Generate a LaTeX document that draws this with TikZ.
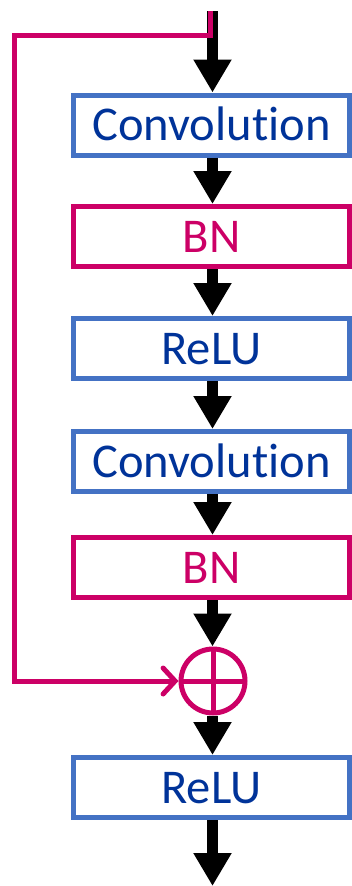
\documentclass[tikz,border=0pt]{standalone}
\usepackage{fontspec}
\setmainfont{Carlito}[RawFeature={-liga;-clig;-dlig}]
\usetikzlibrary{arrows.meta}
\definecolor{boxblue}{HTML}{4472C4}
\definecolor{textblue}{HTML}{003399}
\definecolor{bnpink}{HTML}{CC0066}
\tikzset{
  layer/.style={draw=boxblue, line width=5pt, fill=white, rectangle,
    minimum width=276pt, minimum height=60pt, inner sep=0pt,
    text=textblue, font=\fontsize{48.5}{50}\selectfont, text height=31pt, text depth=0pt},
  bnlayer/.style={layer, draw=bnpink, text=bnpink},
  flow/.style={line width=11pt, -{Triangle[width=36pt,length=33pt]}},
  skip/.style={draw=bnpink, line width=5pt},
}
\begin{document}
\begin{tikzpicture}[x=1pt,y=-1pt]
\useasboundingbox (0,0) rectangle (352,886);
\coordinate (top) at (212.5,11);
\node[layer]   (c1) at (211.5,125)   {Convolution};
\node[bnlayer] (b1) at (211.5,236.5) {BN};
\node[layer]   (r1) at (211.5,348.5) {ReLU};
\node[layer]   (c2) at (211.5,461.5) {Convolution};
\node[bnlayer] (b2) at (211.5,567.5) {BN};
\node[circle, draw=bnpink, line width=5pt, minimum size=64pt, inner sep=0pt] (sum) at (213,681) {};
\node[layer]   (r2) at (211.5,787.5) {ReLU};
\coordinate (out) at (212.5,886);
\draw[bnpink, line width=5pt] (sum.center) ++(-32,0) -- ++(64,0);
\draw[bnpink, line width=5pt] (sum.center) ++(0,-32) -- ++(0,64);
\draw[flow] (top) -- (top |- c1.north);
\draw[flow] (c1.south -| top) -- (b1.north -| top);
\draw[flow] (b1.south -| top) -- (r1.north -| top);
\draw[flow] (r1.south -| top) -- (c2.north -| top);
\draw[flow] (c2.south -| top) -- (b2.north -| top);
\draw[flow] (b2.south -| top) -- (sum.north -| top);
\draw[flow] (sum.south -| top) -- (r2.north -| top);
\draw[flow] (r2.south -| top) -- (out);
\coordinate (start) at (210,11);
\draw[skip, -{Straight Barb[length=12pt,width=26pt,line cap=round]}] (start) -- (210,35.5) -- (14.5,35.5) -- (14.5,681) -- (sum.west);
\end{tikzpicture}
\end{document}
